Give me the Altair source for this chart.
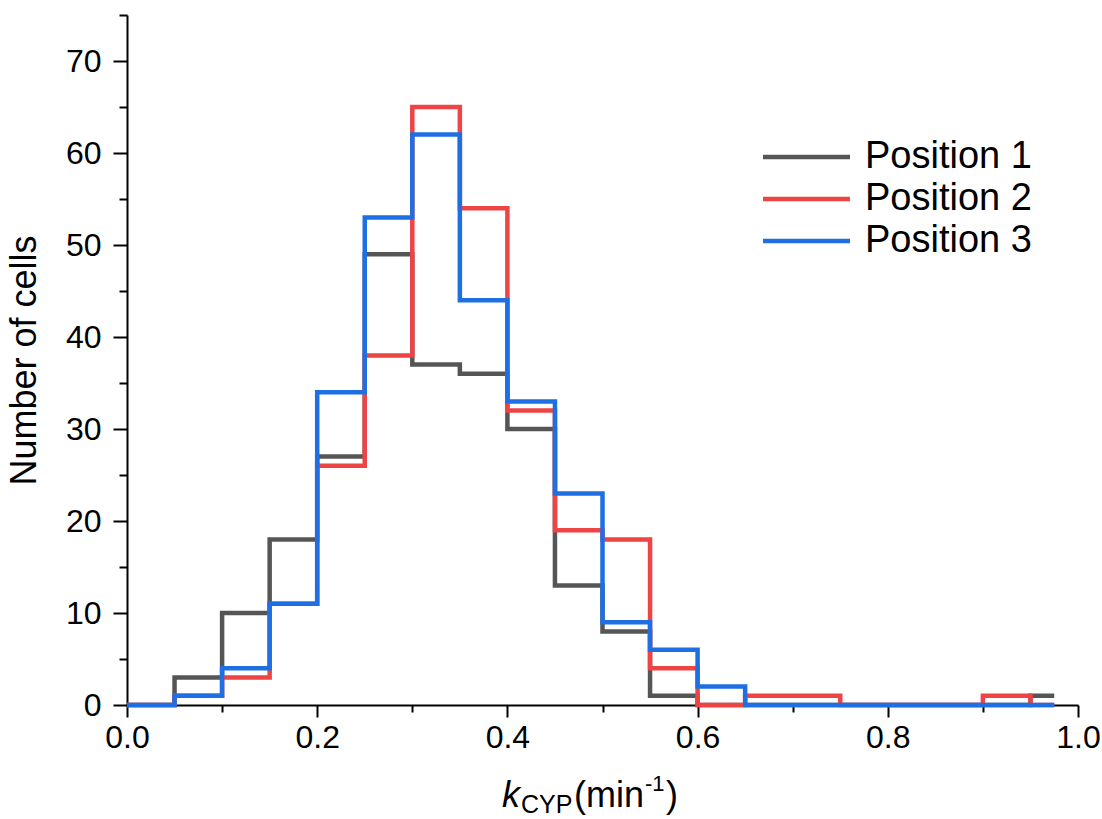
import altair as alt
import pandas as pd

# ---- data ----
bin_left = [0.00, 0.05, 0.10, 0.15, 0.20, 0.25, 0.30, 0.35, 0.40, 0.45,
            0.50, 0.55, 0.60, 0.65, 0.70, 0.75, 0.80, 0.85, 0.90, 0.95]
bin_end = 0.975
pos1 = [0, 3, 10, 18, 27, 49, 37, 36, 30, 13, 8, 1, 0, 0, 0, 0, 0, 0, 0, 1]
pos2 = [0, 1, 3, 11, 26, 38, 65, 54, 32, 19, 18, 4, 0, 1, 1, 0, 0, 0, 1, 0]
pos3 = [0, 1, 4, 11, 34, 53, 62, 44, 33, 23, 9, 6, 2, 0, 0, 0, 0, 0, 0, 0]
series_names = ["Position 1", "Position 2", "Position 3"]
colors = ["#555555", "#EE4444", "#1F6FE4"]

x_major = [0.0, 0.2, 0.4, 0.6, 0.8, 1.0]
x_minor = [0.1, 0.3, 0.5, 0.7, 0.9]
y_major = [0, 10, 20, 30, 40, 50, 60, 70]
y_minor = [5, 15, 25, 35, 45, 55, 65, 75]

rows = []
for name, counts in zip(series_names, [pos1, pos2, pos3]):
    xs = bin_left + [bin_end]
    ys = counts + [counts[-1]]
    for xv, yv in zip(xs, ys):
        rows.append({"x": xv, "count": yv, "series": name})
df = pd.DataFrame(rows)

FONT = "Liberation Sans"
W, H = 951, 690

color_scale = alt.Scale(domain=series_names, range=colors)
x_scale = alt.Scale(domain=[0, 1], nice=False, zero=False)
y_scale = alt.Scale(domain=[0, 75], nice=False)

common_axis = dict(domainColor="black", tickColor="black", labelColor="black",
                   domainWidth=2, tickWidth=2, labelFont=FONT, grid=False,
                   labelFlush=False, labelOverlap=False)


def hist_layer(name, main_axes):
    if main_axes:
        xa = alt.Axis(values=x_major, format=".1f", orient="bottom", title=None,
                      tickSize=12, labelFontSize=32, labelPadding=5, **common_axis)
        ya = alt.Axis(values=y_major, format="d", orient="left",
                      title="Number of cells", titleFont=FONT, titleFontSize=36,
                      titleFontWeight="normal", titleColor="black", titlePadding=22,
                      tickSize=14, labelFontSize=32, labelPadding=12, **common_axis)
    else:
        xa = None
        ya = None
    return alt.Chart(df).transform_filter(
        alt.datum.series == name
    ).mark_line(interpolate="step-after", strokeWidth=4.5, strokeJoin="miter").encode(
        x=alt.X("x:Q", scale=x_scale, axis=xa),
        y=alt.Y("count:Q", scale=y_scale, axis=ya),
        color=alt.Color("series:N", scale=color_scale, legend=None),
    )


minor = alt.Chart(df).transform_filter(
    alt.datum.series == series_names[0]
).mark_line(opacity=0).encode(
    x=alt.X("x:Q", scale=x_scale,
            axis=alt.Axis(values=x_minor, orient="bottom", labels=False, domain=False,
                          title=None, tickSize=7, tickWidth=2, tickColor="black", grid=False)),
    y=alt.Y("count:Q", scale=y_scale,
            axis=alt.Axis(values=y_minor, orient="left", labels=False, domain=False,
                          title=None, tickSize=8, tickWidth=2, tickColor="black", grid=False)),
)

# ---- legend ----
leg_df = pd.DataFrame({"series": series_names})
leg_y = alt.Y("series:N", scale=alt.Scale(type="point", domain=series_names,
                                          range=[142, 226], padding=0), axis=None)
leg_rules = alt.Chart(leg_df).mark_rule(strokeWidth=4.5).encode(
    x=alt.value(636), x2=alt.value(723), y=leg_y,
    color=alt.Color("series:N", scale=color_scale, legend=None),
)
leg_text = alt.Chart(leg_df).mark_text(
    align="left", baseline="middle", fontSize=38, font=FONT, color="black"
).encode(x=alt.value(738), y=leg_y, text="series:N")

# ---- x-axis title: k_CYP (min^-1) ----
tdf = pd.DataFrame({"a": [0]})
t_k = alt.Chart(tdf).mark_text(text="k", fontStyle="italic", fontSize=36, font=FONT,
                               align="left", baseline="alphabetic", color="black"
                               ).encode(x=alt.value(375), y=alt.value(792))
t_sub = alt.Chart(tdf).mark_text(text="CYP", fontSize=25, font=FONT,
                                 align="left", baseline="alphabetic", color="black"
                                 ).encode(x=alt.value(394), y=alt.value(798))
t_min = alt.Chart(tdf).mark_text(text="(min", fontSize=36, font=FONT,
                                 align="left", baseline="alphabetic", color="black"
                                 ).encode(x=alt.value(447), y=alt.value(792))
t_sup = alt.Chart(tdf).mark_text(text="-1", fontSize=22, font=FONT,
                                 align="left", baseline="alphabetic", color="black"
                                 ).encode(x=alt.value(518), y=alt.value(776))
t_par = alt.Chart(tdf).mark_text(text=")", fontSize=36, font=FONT,
                                 align="left", baseline="alphabetic", color="black"
                                 ).encode(x=alt.value(539), y=alt.value(792))

chart = alt.layer(
    minor,
    hist_layer(series_names[0], True),
    hist_layer(series_names[1], False),
    hist_layer(series_names[2], False),
    leg_rules, leg_text,
    t_k, t_sub, t_min, t_sup, t_par,
).resolve_scale(y="independent").resolve_axis(x="independent", y="independent").properties(
    width=W, height=H,
    autosize=alt.AutoSizeParams(type="none"),
    padding={"left": 127, "top": 15, "right": 24, "bottom": 114},
    background="white",
).configure_view(stroke=None)

chart.save("out.html", embed_options={"renderer": "svg", "actions": False})
